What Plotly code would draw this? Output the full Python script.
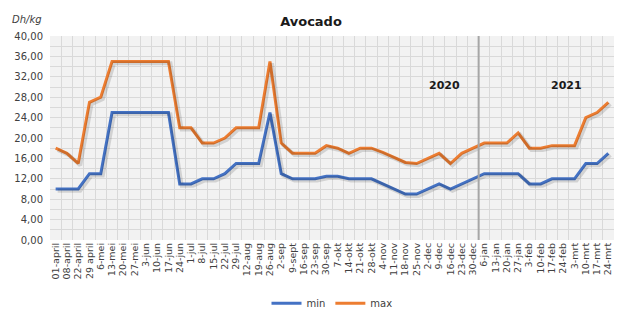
import plotly.graph_objects as go

categories = ["01-april", "08-april", "22-april", "29 april", "6-mei", "13-mei", "20-mei", "27-mei",
              "3-jun", "10-jun", "17-jun", "24-jun", "1-jul", "8-jul", "15-jul", "22-jul", "29-jul",
              "12-aug", "19-aug", "26-aug", "2-sep", "9-sept", "16-sep", "23-sep", "30-sep",
              "7-okt", "14-okt", "21-okt", "28-okt", "4-nov", "11-nov", "18-nov", "25-nov",
              "2-dec", "9-dec", "16-dec", "23-dec", "30-dec", "6-jan", "13-jan", "20-jan", "27-jan",
              "3-feb", "10-feb", "17-feb", "24-feb", "3-mrt", "10-mrt", "17-mrt", "24-mrt"]

min_values = [10, 10, 10, 13, 13, 25, 25, 25, 25, 25, 25, 11, 11, 12, 12, 13, 15,
              15, 15, 25, 13, 12, 12, 12, 12.5, 12.5, 12, 12, 12, 11, 10, 9, 9,
              10, 11, 10, 11, 12, 13, 13, 13, 13, 11, 11, 12, 12, 12, 15, 15, 17]

max_values = [18, 17, 15, 27, 28, 35, 35, 35, 35, 35, 35, 22, 22, 19, 19, 20, 22,
              22, 22, 35, 19, 17, 17, 17, 18.5, 18, 17, 18, 18, 17.2, 16.2, 15.2, 15,
              16, 17, 15, 17, 18, 19, 19, 19, 21, 18, 18, 18.5, 18.5, 18.5, 24, 25, 27]

year_labels = ["2020", "2021"]

BLUE = "#4472C4"
ORANGE = "#ED7D31"
FONT = "DejaVu Sans"

fig = go.Figure()

# soft drop shadows (Excel-like effect) drawn on a slightly offset overlay axis
for vals in (min_values, max_values):
    fig.add_trace(go.Scatter(x=categories, y=vals, mode="lines", xaxis="x2", yaxis="y2",
                             line=dict(color="rgba(0,0,0,0.13)", width=4),
                             showlegend=False, hoverinfo="skip"))

fig.add_trace(go.Scatter(x=categories, y=min_values, mode="lines", name="min",
                         line=dict(color=BLUE, width=3)))
fig.add_trace(go.Scatter(x=categories, y=max_values, mode="lines", name="max",
                         line=dict(color=ORANGE, width=3)))

grid = "#d9d9d9"
fig.update_layout(
    width=627, height=330,
    margin=dict(l=50, r=13, t=36, b=80),
    paper_bgcolor="white",
    plot_bgcolor="#f2f2f2",
    separators=",.",
    font=dict(family=FONT, size=10, color="#404040"),
    title=dict(text="<b>Avocado</b>", x=311 / 627, xanchor="center", y=1 - 21 / 330,
               yanchor="middle", font=dict(family=FONT, size=13, color="#1a1a1a")),
    showlegend=True,
    legend=dict(orientation="h", x=0.5, xanchor="center", y=-0.31, yanchor="middle",
                font=dict(family=FONT, size=10, color="#404040"),
                itemwidth=30, tracegroupgap=0),
    xaxis=dict(type="category", categoryorder="array", categoryarray=categories,
               range=[-0.5, len(categories) - 0.5], tickson="boundaries",
               tickmode="array", tickvals=categories, ticktext=categories,
               showgrid=True, gridcolor=grid, gridwidth=1, tickangle=-90,
               ticks="", ticklen=0, showline=False, zeroline=False,
               tickfont=dict(family=FONT, size=9.5, color="#404040")),
    yaxis=dict(range=[0, 40], dtick=4, tickformat=".2f", showgrid=True,
               gridcolor=grid, gridwidth=1, zeroline=False, showline=False,
               minor=dict(dtick=2, showgrid=True, gridcolor=grid, gridwidth=1),
               tickfont=dict(family=FONT, size=10, color="#404040"), ticks="",
               ticklabelstandoff=6),
    xaxis2=dict(type="category", categoryorder="array", categoryarray=categories,
                overlaying="x", range=[-0.5 - 0.18, len(categories) - 0.5 - 0.18],
                visible=False),
    yaxis2=dict(overlaying="y", range=[0.35, 40.35], visible=False),
)

n_split = categories.index("6-jan") - 0.5
fig.add_shape(type="line", xref="x", yref="paper", x0=n_split, x1=n_split, y0=0, y1=1,
              line=dict(color="#a6a6a6", width=2))

fig.add_annotation(text="<i>Dh/kg</i>", xref="paper", yref="paper",
                   x=-50 / 564 + 27 / 564, y=1 + (36 - 19) / 214, showarrow=False,
                   xanchor="center", yanchor="middle",
                   font=dict(family=FONT, size=10, color="#404040"))
fig.add_annotation(text="<b>%s</b>" % year_labels[0], xref="x", yref="y",
                   x=34.5, y=30.3, showarrow=False,
                   font=dict(family=FONT, size=11, color="#1a1a1a"))
fig.add_annotation(text="<b>%s</b>" % year_labels[1], xref="x", yref="y",
                   x=45.3, y=30.3, showarrow=False,
                   font=dict(family=FONT, size=11, color="#1a1a1a"))

fig.write_html("out.html")
